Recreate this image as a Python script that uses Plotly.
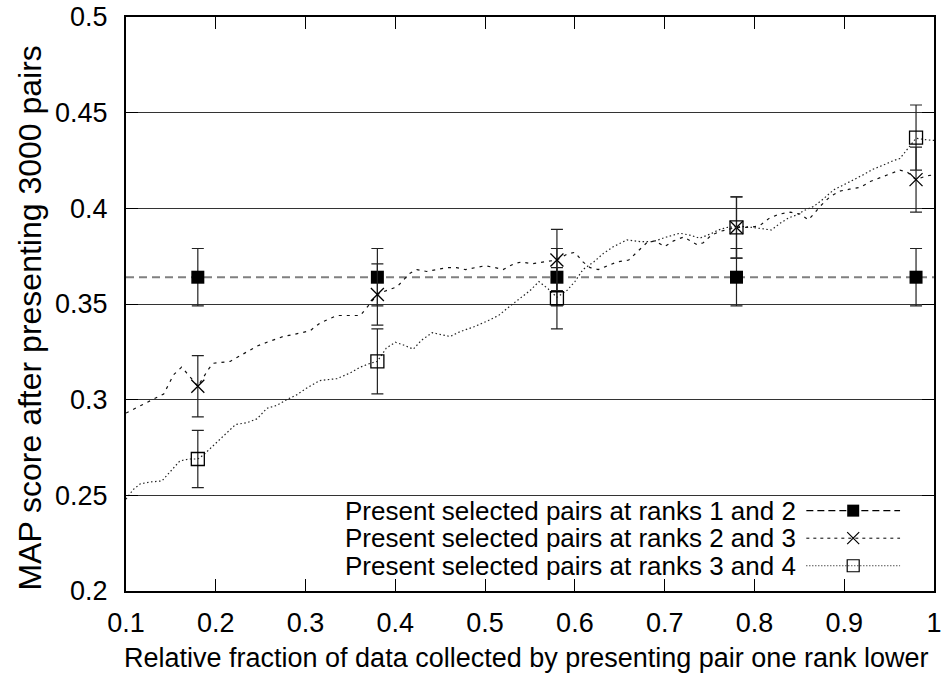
import plotly.graph_objects as go

# ---------------- data ----------------
marker_x = [0.18, 0.38, 0.58, 0.78, 0.98]

s1_name = "Present selected pairs at ranks 1 and 2"
s1_y = [0.364, 0.364, 0.364, 0.364, 0.364]
s1_err = [0.015, 0.015, 0.015, 0.015, 0.015]
s1_line_x = [0.1, 1.0]
s1_line_y = [0.364, 0.364]

s2_name = "Present selected pairs at ranks 2 and 3"
s2_y = [0.307, 0.355, 0.373, 0.390, 0.415]
s2_err = [0.016, 0.016, 0.016, 0.016, 0.017]
s2_curve_x = [0.100, 0.130, 0.142, 0.153, 0.162, 0.173, 0.180, 0.192, 0.197, 0.216,
              0.227, 0.246, 0.257, 0.275, 0.286, 0.305, 0.316, 0.335, 0.346, 0.361,
              0.368, 0.380, 0.390, 0.402, 0.416, 0.424, 0.435, 0.446, 0.457, 0.468,
              0.478, 0.489, 0.500, 0.511, 0.520, 0.532, 0.541, 0.552, 0.565, 0.580,
              0.591, 0.600, 0.609, 0.617, 0.626, 0.636, 0.647, 0.660, 0.671, 0.680,
              0.689, 0.700, 0.710, 0.721, 0.736, 0.743, 0.752, 0.762, 0.780, 0.795,
              0.806, 0.817, 0.828, 0.840, 0.851, 0.860, 0.866, 0.873, 0.884, 0.895,
              0.906, 0.918, 0.929, 0.940, 0.951, 0.962, 0.970, 0.980, 0.992, 1.000]
s2_curve_y = [0.293, 0.300, 0.303, 0.313, 0.317, 0.311, 0.307, 0.316, 0.319, 0.320,
              0.323, 0.328, 0.330, 0.333, 0.334, 0.336, 0.340, 0.344, 0.344, 0.344,
              0.348, 0.355, 0.357, 0.359, 0.366, 0.368, 0.367, 0.368, 0.369, 0.369,
              0.368, 0.369, 0.370, 0.369, 0.368, 0.371, 0.372, 0.371, 0.372, 0.373,
              0.376, 0.377, 0.372, 0.369, 0.368, 0.370, 0.372, 0.373, 0.378, 0.382,
              0.383, 0.380, 0.383, 0.385, 0.381, 0.382, 0.386, 0.388, 0.390, 0.390,
              0.391, 0.395, 0.397, 0.398, 0.397, 0.394, 0.397, 0.401, 0.406, 0.409,
              0.410, 0.411, 0.414, 0.416, 0.418, 0.420, 0.419, 0.415, 0.417, 0.4175]

s3_name = "Present selected pairs at ranks 3 and 4"
s3_y = [0.269, 0.320, 0.353, 0.390, 0.437]
s3_err = [0.015, 0.017, 0.016, 0.016, 0.017]
s3_curve_x = [0.100, 0.108, 0.116, 0.127, 0.140, 0.149, 0.160, 0.171, 0.180, 0.186,
              0.197, 0.209, 0.222, 0.235, 0.246, 0.257, 0.268, 0.279, 0.290, 0.301,
              0.316, 0.335, 0.350, 0.361, 0.372, 0.380, 0.390, 0.400, 0.409, 0.420,
              0.429, 0.441, 0.450, 0.461, 0.472, 0.487, 0.502, 0.515, 0.528, 0.539,
              0.550, 0.560, 0.570, 0.580, 0.591, 0.600, 0.609, 0.621, 0.632, 0.643,
              0.658, 0.673, 0.687, 0.702, 0.717, 0.728, 0.739, 0.751, 0.760, 0.769,
              0.780, 0.791, 0.806, 0.819, 0.828, 0.838, 0.847, 0.856, 0.866, 0.877,
              0.888, 0.899, 0.910, 0.921, 0.932, 0.944, 0.955, 0.962, 0.970, 0.980,
              0.992, 1.000]
s3_curve_y = [0.248, 0.253, 0.256, 0.257, 0.2575, 0.262, 0.268, 0.269, 0.269, 0.271,
              0.276, 0.2815, 0.287, 0.288, 0.290, 0.2955, 0.297, 0.300, 0.3025, 0.306,
              0.310, 0.311, 0.314, 0.317, 0.319, 0.320, 0.327, 0.330, 0.3286, 0.3264,
              0.331, 0.335, 0.334, 0.333, 0.3355, 0.338, 0.341, 0.344, 0.349, 0.353,
              0.357, 0.3617, 0.358, 0.3535, 0.357, 0.3617, 0.368, 0.372, 0.3765, 0.380,
              0.3835, 0.3826, 0.3826, 0.385, 0.387, 0.386, 0.3844, 0.3866, 0.3887, 0.390,
              0.3904, 0.3904, 0.3896, 0.3887, 0.392, 0.395, 0.3965, 0.399, 0.401, 0.405,
              0.4096, 0.412, 0.4148, 0.4175, 0.4204, 0.4227, 0.425, 0.426, 0.4306, 0.4366,
              0.4358, 0.4355]

x_title = "Relative fraction of data collected by presenting pair one rank lower"
y_title = "MAP score after presenting 3000 pairs"

# ---------------- styles ----------------
FONT = "Liberation Sans, Arial, Helvetica, sans-serif"
FS = 27
FS_KEY = 26
s1_line = dict(color="#808080", width=2, dash="8px,5px")
s2_line = dict(color="#111111", width=1.2, dash="3px,5px")
s3_line = dict(color="#222222", width=1.2, dash="1.5px,2.5px")
s1_marker = dict(symbol="square", size=13, color="black", line=dict(width=0))
s2_marker = dict(symbol="x-thin", size=13, color="black", line=dict(width=1.3, color="black"))
s3_marker = dict(symbol="square-open", size=13, color="black", line=dict(width=1.3, color="black"))
err_style = dict(type="data", visible=True, color="#222222", thickness=1.2, width=6)

fig = go.Figure()

# curves
fig.add_trace(go.Scatter(x=s1_line_x, y=s1_line_y, mode="lines", line=s1_line,
                         showlegend=False, hoverinfo="skip"))
fig.add_trace(go.Scatter(x=s2_curve_x, y=s2_curve_y, mode="lines", line=s2_line,
                         showlegend=False, hoverinfo="skip"))
fig.add_trace(go.Scatter(x=s3_curve_x, y=s3_curve_y, mode="lines", line=s3_line,
                         showlegend=False, hoverinfo="skip"))

# markers with error bars
fig.add_trace(go.Scatter(x=marker_x, y=s1_y, mode="markers", marker=s1_marker,
                         error_y=dict(array=s1_err, **err_style), name=s1_name, showlegend=False))
fig.add_trace(go.Scatter(x=marker_x, y=s2_y, mode="markers", marker=s2_marker,
                         error_y=dict(array=s2_err, **err_style), name=s2_name, showlegend=False))
fig.add_trace(go.Scatter(x=marker_x, y=s3_y, mode="markers", marker=s3_marker,
                         error_y=dict(array=s3_err, **err_style), name=s3_name, showlegend=False))

# ---------------- gnuplot-style key (samples on the right) ----------------
key_rows = [0.140, 0.092, 0.044]
key_text_x = 0.830
key_sample = [0.842, 0.958]
key_mid = 0.900
key_lines = [dict(color="black", width=1.2, dash="7px,4px"),
             dict(color="black", width=1.0, dash="3px,4px"),
             dict(color="black", width=1.0, dash="1px,2px")]
key_markers = [dict(symbol="square", size=12, color="black"),
               dict(symbol="x-thin", size=12, color="black", line=dict(width=1.2, color="black")),
               dict(symbol="square-open", size=12, color="black", line=dict(width=1.2, color="black"))]
for ky, kl, km, kn in zip(key_rows, key_lines, key_markers, [s1_name, s2_name, s3_name]):
    fig.add_trace(go.Scatter(x=key_sample, y=[ky, ky], mode="lines", line=kl,
                             xaxis="x2", yaxis="y2", showlegend=False, hoverinfo="skip"))
    fig.add_trace(go.Scatter(x=[key_mid], y=[ky], mode="markers", marker=km,
                             xaxis="x2", yaxis="y2", showlegend=False, hoverinfo="skip"))
    fig.add_annotation(text=kn, x=key_text_x, y=ky, xref="paper", yref="paper",
                       xanchor="right", yanchor="middle", showarrow=False, borderpad=0,
                       font=dict(family=FONT, size=FS_KEY, color="black"))

# axis titles placed as annotations (gnuplot-style positions)
fig.add_annotation(text=y_title, x=-0.119, y=0.476, xref="paper", yref="paper",
                   xanchor="center", yanchor="middle", textangle=-90, showarrow=False,
                   font=dict(family=FONT, size=32, color="black"))
fig.add_annotation(text=x_title, x=0.495, y=-0.1167, xref="paper", yref="paper",
                   xanchor="center", yanchor="middle", showarrow=False,
                   font=dict(family=FONT, size=FS, color="black"))

fig.update_layout(
    width=944, height=677,
    margin=dict(l=126, r=10, t=17, b=86),
    paper_bgcolor="white", plot_bgcolor="white",
    font=dict(family=FONT, size=FS, color="black"),
    showlegend=False,
    xaxis=dict(range=[0.1, 1.0], dtick=0.1, tick0=0.1, showgrid=False, zeroline=False,
               showline=True, linecolor="black", linewidth=2, mirror="ticks",
               ticks="inside", ticklen=12, tickcolor="black", tickwidth=1,
               ticklabelstandoff=7, automargin=False),
    yaxis=dict(range=[0.2, 0.5], dtick=0.05, tick0=0.2, showgrid=True, gridcolor="#333333",
               gridwidth=1, zeroline=False,
               showline=True, linecolor="black", linewidth=2, mirror="ticks",
               ticks="inside", ticklen=12, tickcolor="black", tickwidth=1,
               ticklabelstandoff=11, automargin=False),
    xaxis2=dict(range=[0, 1], overlaying="x", visible=False, fixedrange=True),
    yaxis2=dict(range=[0, 1], overlaying="y", visible=False, fixedrange=True),
)

fig.write_html("out.html", config={"displayModeBar": False},
               post_script="document.body.style.margin='0';document.body.style.overflow='hidden';")
